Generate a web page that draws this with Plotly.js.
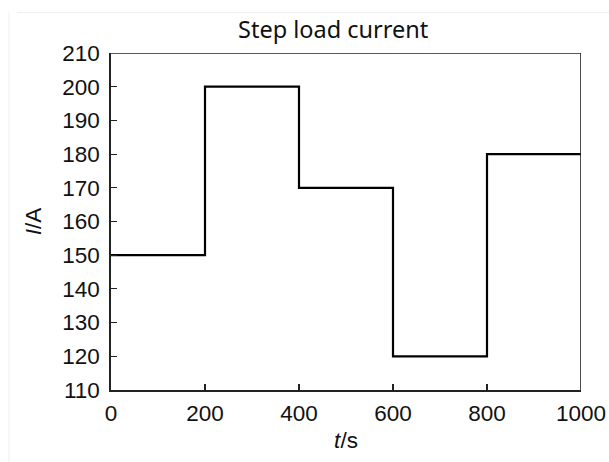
<!DOCTYPE html>
<html>
<head>
<meta charset="utf-8">
<script src="https://cdn.plot.ly/plotly-3.0.1.min.js"></script>
<style>html,body{margin:0;padding:0;background:#fff;}#chart{width:609px;height:462px;}</style>
</head>
<body>
<div id="chart"></div>
<script>
// Step load current data
var timeS = [0, 200, 400, 600, 800, 1000];
var currentA = [150, 200, 170, 120, 180, 180];
var xTicks = [0, 200, 400, 600, 800, 1000];
var yTicks = [110, 120, 130, 140, 150, 160, 170, 180, 190, 200, 210];

var trace = {
  x: timeS,
  y: currentA,
  type: 'scatter',
  mode: 'lines',
  line: {shape: 'hv', color: '#000', width: 2.2},
  hoverinfo: 'skip'
};

var tickFont = {family: 'Liberation Sans, Arial, sans-serif', size: 22.5, color: '#111'};

var layout = {
  width: 609, height: 462,
  margin: {l: 111, r: 28, t: 53, b: 72},
  paper_bgcolor: '#fff', plot_bgcolor: '#fff',
  showlegend: false,
  title: {
    text: 'Step load current',
    font: {family: 'Noto Sans, Open Sans, sans-serif', size: 23.5, color: '#111'},
    x: 0.547, xref: 'container', xanchor: 'center',
    y: 0.935, yref: 'container', yanchor: 'middle'
  },
  xaxis: {
    range: [0, 1000],
    tickvals: xTicks,
    ticktext: xTicks.map(String),
    ticks: 'inside', ticklen: 6, tickwidth: 1.2, tickcolor: '#222',
    showline: true, linecolor: '#222', linewidth: 1.6,
    showgrid: false, zeroline: false, mirror: false,
    tickfont: tickFont,
    ticklabelstandoff: 2,
    title: {text: '<i>t</i>/s', font: {family: 'Liberation Sans, Arial, sans-serif', size: 22.5, color: '#111'}, standoff: 7}
  },
  yaxis: {
    range: [110, 210],
    tickvals: yTicks,
    ticktext: yTicks.map(String),
    ticks: 'inside', ticklen: 6, tickwidth: 1.2, tickcolor: '#222',
    showline: true, linecolor: '#222', linewidth: 1.6,
    showgrid: false, zeroline: false, mirror: false,
    tickfont: tickFont,
    ticklabelstandoff: 5,
    title: {text: '<i>I</i>/A', font: {family: 'Liberation Sans, Arial, sans-serif', size: 22.5, color: '#111'}, standoff: 14}
  },
  shapes: [
    {type: 'line', xref: 'x', yref: 'paper', x0: 1000, x1: 1000, y0: 0, y1: 1, line: {color: '#222', width: 1.6}},
    {type: 'line', xref: 'paper', yref: 'y', x0: 0, x1: 1, y0: 210, y1: 210, line: {color: '#222', width: 1.6}},
    {type: 'line', xref: 'paper', yref: 'paper', x0: -0.2, x1: 1.2, y0: 1.12, y1: 1.12, line: {color: '#eeeeee', width: 1}},
    {type: 'line', xref: 'paper', yref: 'paper', x0: -0.217, x1: -0.217, y0: -0.3, y1: 1.12, line: {color: '#eeeeee', width: 1}}
  ]
};

Plotly.newPlot('chart', [trace], layout, {displayModeBar: false, staticPlot: true});
</script>
</body>
</html>
